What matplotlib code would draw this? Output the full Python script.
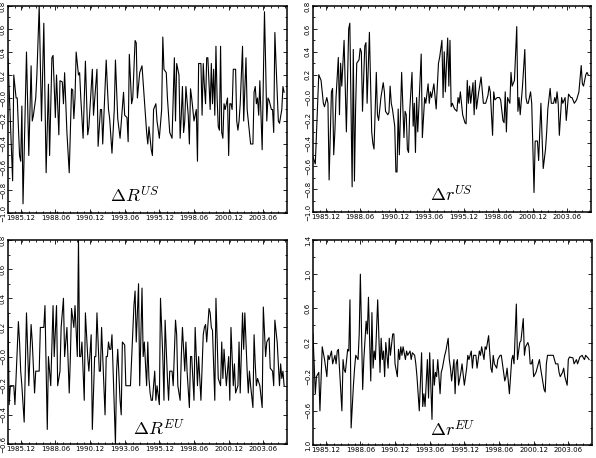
import matplotlib
matplotlib.use("Agg")
import matplotlib.pyplot as plt
from matplotlib.ticker import FixedLocator, MultipleLocator

plt.rcParams['mathtext.fontset'] = 'cm'

# month index 0 = 1985.01
tick_months = [11, 41, 71, 101, 131, 161, 191, 221]
tick_labels = ["1985.12", "1988.06", "1990.12", "1993.06", "1995.12", "1998.06", "2000.12", "2003.06"]

# Delta R^US
RUS_m = [0, 4, 5, 7, 8, 10, 11, 12, 13, 16, 18, 20, 21, 22, 24, 25, 27, 29, 31, 33, 35, 36, 38, 39, 41, 42, 44, 45,
         47, 48, 49, 51, 53, 55, 56, 57, 58, 59, 61, 62, 63, 65, 67, 69, 70, 73, 74, 77, 78, 80, 81, 82, 85, 86, 87, 88,
         90, 92, 93, 95, 97, 100, 101, 103, 104, 105, 107, 108, 110, 111, 112, 114, 116, 120, 121, 122, 124, 125, 126,
         128, 129, 131, 133, 134, 135, 137, 138, 140, 142, 144, 145, 146, 148, 149, 150, 151, 152, 153, 154, 156, 157,
         158, 159, 160, 161, 163, 164, 165, 167, 168, 169, 170, 171, 172, 173, 175, 176, 177, 178, 179, 180, 181, 182,
         183, 184, 185, 186, 187, 188, 190, 191, 192, 193, 194, 195, 197, 198, 199, 200, 201, 203, 204, 206, 207, 209,
         210, 212, 213, 214, 215, 216, 217, 218, 220, 222, 223, 224, 225, 226, 228, 229, 230, 231, 232, 234, 235, 237,
         238, 239]
RUS_v = [0.34, -0.72, 0.2, 0.0, 0.0, -0.5, -0.55, -0.07, -0.92, 0.4, -0.5, 0.28, -0.2, -0.15, 0.0, 0.2, 0.8, -0.2,
         0.65, -0.65, 0.12, -0.5, 0.35, 0.37, -0.17, 0.2, -0.32, 0.15, 0.14, -0.05, 0.22, -0.3, -0.65, 0.08, 0.07, -0.18,
         0.0, 0.4, 0.2, 0.22, 0.0, -0.35, 0.32, -0.32, -0.25, 0.25, -0.15, 0.25, -0.42, -0.1, -0.1, -0.4, 0.33, 0.1,
         -0.1, -0.18, -0.48, -0.1, 0.33, -0.18, -0.35, 0.05, -0.15, -0.17, -0.38, 0.38, -0.05, 0.0, 0.5, 0.48, 0.0, 0.22,
         0.28, -0.3, -0.4, -0.25, -0.45, -0.5, -0.1, -0.05, -0.2, -0.35, -0.1, 0.53, 0.25, 0.22, 0.0, -0.3, -0.35, 0.35,
         -0.2, 0.3, 0.2, -0.35, -0.15, 0.1, -0.3, -0.2, 0.1, -0.15, -0.4, 0.08, 0.0, -0.1, -0.2, -0.1, -0.55, 0.3, 0.3,
         -0.15, 0.3, 0.1, -0.05, 0.35, 0.35, -0.1, 0.3, -0.05, 0.25, -0.15, 0.45, 0.0, -0.25, -0.28, 0.45, -0.3, -0.35,
         -0.05, -0.1, 0.0, -0.5, -0.05, -0.05, -0.1, 0.25, 0.25, -0.2, -0.28, -0.2, -0.05, 0.45, -0.2, 0.35, -0.1, -0.3,
         -0.4, -0.4, 0.05, 0.1, -0.05, 0.0, -0.15, 0.15, -0.45, 0.75, 0.3, -0.2, 0.0, -0.02, -0.1, -0.1, -0.3, 0.57,
         0.3, -0.2, -0.22, -0.1, 0.1, 0.05]

# Delta r^US
rUS_m = [0, 2, 5, 7, 9, 10, 12, 13, 14, 16, 17, 18, 19, 20, 22, 23, 24, 25, 27, 29, 31, 32, 34, 35, 36, 37, 38, 40,
         41, 42, 43, 45, 46, 47, 49, 51, 52, 53, 55, 56, 57, 59, 61, 62, 63, 65, 66, 67, 68, 69, 71, 72, 73, 74, 75, 77,
         79, 80, 81, 82, 83, 84, 86, 87, 88, 89, 90, 91, 94, 95, 97, 98, 100, 101, 102, 103, 105, 107, 109, 110, 112,
         113, 114, 115, 116, 117, 118, 119, 120, 121, 123, 125, 126, 127, 128, 130, 132, 133, 134, 135, 136, 137, 139,
         140, 141, 142, 144, 146, 148, 150, 152, 153, 154, 156, 157, 158, 160, 162, 163, 165, 166, 167, 168, 169, 171,
         172, 173, 175, 177, 178, 179, 180, 182, 184, 185, 186, 187, 189, 190, 192, 193, 195, 196, 198, 199, 200, 202,
         203, 204, 206, 207, 209, 210, 211, 212, 213, 214, 216, 217, 219, 220, 222, 224, 225, 227, 229, 231, 233, 234,
         235, 237, 238, 239]
rUS_v = [-0.52, -0.58, 0.2, 0.15, -0.05, -0.08, 0.0, -0.05, -0.72, 0.05, 0.08, -0.5, -0.3, 0.0, 0.35, -0.15, 0.3, 0.1,
         0.5, -0.3, 0.6, 0.65, -0.78, 0.42, -0.73, -0.1, 0.3, 0.33, 0.43, 0.4, -0.12, 0.45, 0.48, -0.05, 0.57, -0.3,
         -0.4, -0.45, 0.22, -0.15, -0.2, 0.0, 0.13, 0.05, -0.12, -0.15, -0.13, 0.1, -0.05, -0.1, -0.25, -0.65, -0.65,
         -0.1, -0.5, 0.22, -0.35, -0.12, -0.15, -0.45, -0.48, -0.12, 0.22, -0.25, -0.05, -0.48, 0.0, -0.3, 0.38, -0.35,
         0.0, -0.05, 0.12, -0.05, 0.05, 0.0, 0.12, -0.1, 0.3, 0.35, 0.5, 0.0, 0.4, 0.05, 0.3, 0.52, 0.1, 0.5, -0.08,
         -0.05, -0.1, -0.12, 0.0, -0.05, 0.05, -0.15, -0.22, -0.23, 0.15, -0.05, 0.1, -0.05, 0.13, -0.15, 0.15, -0.1,
         0.05, 0.18, -0.05, -0.05, 0.02, 0.1, 0.05, -0.33, 0.05, -0.02, 0.0, 0.0, -0.02, -0.2, -0.22, 0.05, -0.3, 0.0,
         -0.05, 0.22, 0.1, 0.15, 0.62, -0.12, 0.0, -0.15, 0.1, 0.42, 0.0, -0.05, -0.05, 0.05, -0.05, -0.83, -0.38,
         -0.38, -0.55, -0.05, -0.35, -0.62, -0.45, -0.3, -0.1, 0.08, -0.05, -0.05, 0.0, -0.05, 0.05, -0.05, -0.33, 0.0,
         -0.05, 0.0, -0.2, 0.03, 0.0, 0.0, -0.05, -0.02, 0.05, 0.28, 0.12, 0.1, 0.2, 0.22, 0.2]

# Delta R^EU
REU_m = [0, 1, 2, 5, 6, 9, 10, 11, 12, 14, 16, 18, 20, 21, 23, 24, 27, 28, 31, 32, 34, 35, 37, 39, 40, 42, 43, 45, 46,
         48, 49, 51, 53, 54, 55, 57, 58, 60, 61, 62, 63, 64, 66, 67, 69, 70, 72, 73, 75, 76, 77, 79, 80, 81, 84, 85, 86,
         87, 88, 89, 90, 93, 94, 95, 97, 98, 99, 101, 102, 106, 109, 110, 111, 113, 114, 116, 117, 118, 120, 121, 122,
         123, 124, 125, 127, 128, 129, 131, 132, 134, 135, 136, 138, 139, 140, 142, 143, 145, 146, 147, 149, 150, 151,
         153, 154, 155, 157, 158, 159, 161, 162, 164, 165, 167, 169, 170, 171, 172, 174, 175, 176, 177, 179, 180, 182,
         184, 185, 186, 187, 189, 191, 192, 193, 195, 196, 197, 199, 200, 201, 203, 204, 205, 207, 208, 209, 210, 212,
         213, 214, 215, 216, 218, 220, 221, 223, 224, 226, 227, 229, 230, 231, 233, 235, 236, 237, 238, 239]
REU_v = [0.3, -0.33, -0.2, -0.2, -0.33, 0.24, 0.1, -0.1, -0.2, -0.45, 0.3, -0.2, 0.22, 0.1, -0.25, -0.1, -0.1, 0.2, 0.2,
         0.35, -0.5, 0.0, -0.2, 0.35, 0.0, 0.35, -0.2, -0.1, 0.2, 0.4, 0.0, 0.2, -0.25, 0.0, 0.33, 0.2, 0.35, 0.0, 0.8,
         0.0, 0.0, 0.1, -0.3, 0.3, 0.0, -0.1, 0.15, -0.5, 0.0, 0.0, 0.3, -0.1, -0.1, 0.2, -0.4, 0.0, 0.0, 0.1, 0.05,
         0.05, 0.15, -0.6, -0.1, 0.05, -0.3, -0.4, 0.1, 0.08, -0.2, -0.2, 0.35, 0.45, 0.1, 0.5, -0.2, 0.47, 0.0, 0.1,
         -0.2, 0.1, -0.15, -0.25, -0.3, -0.3, -0.1, -0.3, -0.2, -0.33, 0.4, 0.0, -0.3, 0.25, -0.15, -0.3, -0.1, -0.1,
         -0.2, 0.25, 0.15, -0.2, -0.3, 0.0, 0.2, -0.1, 0.1, -0.1, -0.35, 0.0, 0.0, -0.3, 0.2, -0.2, 0.0, -0.3, 0.15,
         0.2, 0.22, 0.1, 0.33, 0.3, 0.2, 0.18, -0.3, 0.4, -0.15, -0.2, 0.1, -0.15, 0.05, -0.2, 0.0, -0.3, 0.2, -0.2,
         -0.05, -0.25, -0.2, 0.1, -0.25, 0.3, 0.05, 0.3, -0.1, -0.25, -0.1, -0.2, -0.35, 0.15, -0.05, -0.2, -0.15,
         -0.2, -0.35, 0.34, 0.0, 0.1, 0.13, -0.08, -0.1, -0.2, 0.25, 0.1, -0.2, -0.05, -0.15, -0.1, -0.2]

# Delta r^EU
rEU_m = [0, 2, 3, 5, 6, 8, 10, 12, 13, 14, 16, 17, 18, 19, 20, 21, 22, 24, 25, 26, 27, 28, 30, 31, 32, 33, 35, 36, 37,
         39, 40, 41, 43, 44, 46, 47, 48, 50, 51, 52, 53, 54, 56, 58, 59, 60, 61, 62, 63, 65, 66, 67, 69, 70, 71, 73, 74,
         75, 76, 77, 78, 80, 81, 82, 84, 85, 86, 88, 89, 90, 92, 94, 95, 96, 97, 99, 100, 101, 103, 104, 105, 106, 107,
         108, 110, 111, 112, 114, 115, 117, 118, 119, 120, 122, 123, 124, 125, 126, 128, 129, 131, 133, 134, 135, 137,
         138, 139, 141, 142, 144, 145, 146, 148, 149, 150, 152, 153, 154, 155, 156, 157, 159, 160, 162, 163, 164, 166,
         167, 168, 170, 172, 173, 174, 176, 177, 179, 180, 182, 183, 184, 186, 187, 188, 189, 190, 191, 193, 195, 196,
         197, 200, 201, 202, 203, 206, 208, 209, 210, 212, 213, 214, 216, 217, 218, 220, 221, 222, 225, 226, 228, 229,
         231, 233, 234, 235, 236, 238, 239]
rEU_v = [0.3, -0.4, -0.2, -0.15, -0.6, 0.15, 0.0, -0.2, 0.05, 0.0, 0.1, -0.05, 0.0, 0.05, -0.05, 0.1, 0.12, -0.35,
         -0.6, 0.0, -0.12, -0.15, 0.12, 0.1, 0.7, -0.8, -0.3, -0.1, 0.05, 0.0, 0.3, 1.0, -0.35, 0.0, 0.45, 0.3, 0.73,
         -0.25, 0.55, -0.1, 0.1, 0.0, 0.7, -0.15, 0.25, 0.0, 0.1, -0.2, 0.2, -0.1, 0.25, 0.05, 0.3, 0.3, -0.05, -0.2,
         0.12, 0.0, 0.15, 0.05, 0.15, 0.0, 0.1, 0.05, 0.1, 0.0, 0.08, 0.05, -0.05, -0.2, -0.6, 0.08, -0.55, -0.4, -0.55,
         0.0, -0.45, 0.08, -0.7, 0.0, -0.3, -0.15, -0.2, 0.0, -0.4, -0.15, -0.1, 0.05, 0.1, 0.25, 0.0, -0.1, -0.25, 0.0,
         -0.4, -0.05, 0.0, -0.3, -0.15, -0.05, -0.3, -0.1, 0.05, 0.0, 0.1, -0.1, 0.05, 0.05, -0.1, 0.1, 0.05, 0.15, 0.0,
         0.15, 0.12, 0.28, 0.08, -0.1, -0.15, 0.05, -0.05, -0.1, 0.0, 0.05, 0.05, -0.05, -0.25, -0.2, -0.1, -0.4, 0.0,
         0.05, -0.05, 0.65, 0.0, 0.2, 0.22, 0.48, 0.05, 0.15, 0.2, 0.15, -0.05, -0.05, 0.0, -0.2, -0.15, -0.05, 0.0,
         -0.1, -0.35, -0.38, -0.05, 0.05, 0.05, 0.05, 0.0, -0.05, -0.05, -0.15, -0.2, -0.15, -0.1, -0.2, -0.3, 0.0,
         0.03, 0.02, -0.05, 0.0, -0.05, 0.03, 0.05, 0.02, 0.0, 0.05, 0.02, 0.0]

panels = [
    (RUS_m, RUS_v, r"$\Delta R^{US}$", (-1.0, 0.8), [-1.0, -0.8, -0.6, -0.4, -0.2, 0.0, 0.2, 0.4, 0.6, 0.8],
     ["\u22121.0", "\u22120.8", "\u22120.6", "\u22120.4", "\u22120.2", "\u22120.0", "0.2", "0.4", "0.6", "0.8"], 0.1),
    (rUS_m, rUS_v, r"$\Delta r^{US}$", (-1.0, 0.8), [-1.0, -0.8, -0.6, -0.4, -0.2, 0.0, 0.2, 0.4, 0.6, 0.8],
     ["\u22121.0", "\u22120.8", "\u22120.6", "\u22120.4", "\u22120.2", "\u22120.0", "0.2", "0.4", "0.6", "0.8"], 0.1),
    (REU_m, REU_v, r"$\Delta R^{EU}$", (-0.6, 0.8), [-0.6, -0.4, -0.2, 0.0, 0.2, 0.4, 0.6, 0.8],
     ["\u22120.6", "\u22120.4", "\u22120.2", "\u22120.0", "0.2", "0.4", "0.6", "0.8"], 0.1),
    (rEU_m, rEU_v, r"$\Delta r^{EU}$", (-1.0, 1.4), [-1.0, -0.6, -0.2, 0.2, 0.6, 1.0, 1.4],
     ["1.0", "\u22120.6", "\u22120.2", "0.2", "0.6", "1.0", "1.4"], 0.2),
]

rects = [
    [8 / 596, 1 - 213 / 458, 279 / 596, 207 / 458],
    [313 / 596, 1 - 212 / 458, 278 / 596, 206 / 458],
    [8 / 596, 1 - 444 / 458, 279 / 596, 204 / 458],
    [313 / 596, 1 - 445 / 458, 279 / 596, 205 / 458],
]
label_pos = [(0.455, 0.05), (0.50, 0.05), (0.54, 0.04), (0.50, 0.04)]

fig = plt.figure(figsize=(5.96, 4.58), dpi=100)
for (m, v, title, ylim, yt, ytl, yminor), rect, lp in zip(panels, rects, label_pos):
    ax = fig.add_axes(rect)
    ax.plot(m, v, color='black', lw=0.8)
    ax.set_xlim(0, 241.5)
    ax.set_ylim(*ylim)
    ax.xaxis.set_major_locator(FixedLocator(tick_months))
    ax.set_xticklabels(tick_labels, fontsize=5)
    ax.xaxis.set_minor_locator(MultipleLocator(6))
    ax.set_yticks(yt)
    ax.set_yticklabels(ytl, fontsize=5, rotation=90, va='center')
    ax.yaxis.set_minor_locator(MultipleLocator(yminor))
    ax.tick_params(which='both', direction='in', top=True, right=True, width=0.6)
    ax.tick_params(which='major', length=3, pad=1.5)
    ax.tick_params(which='minor', length=1.5)
    for s in ax.spines.values():
        s.set_linewidth(1.1)
    ax.text(lp[0], lp[1], title, transform=ax.transAxes, ha='center', va='baseline', fontsize=13)

fig.savefig("out.png", dpi=100)
